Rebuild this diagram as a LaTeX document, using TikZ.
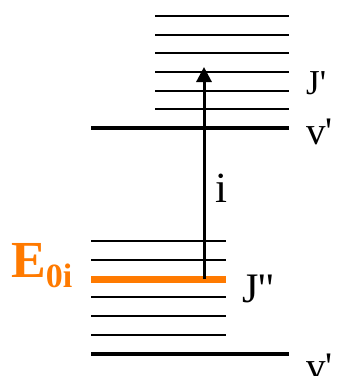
\documentclass[tikz,border=0pt]{standalone}
\usepackage{fontspec}
\setmainfont{Liberation Serif}
\usetikzlibrary{arrows.meta}
\definecolor{pop}{HTML}{FF7A00}
\definecolor{ink}{HTML}{000000}
\tikzset{
  >=Triangle,
  level/.style={draw=ink,line width=2.2pt},
  vib/.style={draw=ink,line width=3.2pt},
  popl/.style={draw=pop,line width=7pt},
  pump/.style={->,draw=ink,line width=3pt,>={Triangle[length=15pt,width=15pt]}},
  lab/.style={inner sep=0pt,anchor=base west,text=ink},
}
\newcommand{\pr}{\textquotesingle}

\begin{document}
\begin{tikzpicture}[x=1pt,y=-1pt]
  \useasboundingbox (0,0) rectangle (338,376);

  % upper state: v' and its J' ladder
  \foreach \yy in {16,35,53,72,91,109} \draw[level] (155,\yy) -- (289,\yy);
  \draw[vib] (91,128) -- (289,128);

  % lower state: J'' ladder and v''
  \foreach \yy in {241,260,297,316,335} \draw[level] (91,\yy) -- (226,\yy);
  \draw[popl] (91,279) -- (226,279);
  \draw[vib] (91,354) -- (289,354);

  % excitation
  \coordinate (lo) at (204,279);
  \coordinate (hi) at (204,67);
  \draw[pump] (lo) -- (hi);

  \node[lab,font=\fontsize{35}{35}\selectfont] (jup) at (306,94) {J\pr};
  \node[lab,font=\fontsize{39}{39}\selectfont] (vup) at (306,144) {v\pr};
  \node[lab,font=\fontsize{43}{43}\selectfont] (tr) at (215,202) {i};
  \node[lab,font=\fontsize{42}{42}\selectfont] (jlo) at (242,302) {J\pr\pr};
  \node[lab,font=\fontsize{39}{39}\selectfont] (vlo) at (306,379) {v\pr};
  \node[lab,text=pop,font=\fontsize{52}{52}\selectfont\bfseries] (eoi) at (11,277)
    {E\raisebox{-10pt}{\fontsize{34}{34}\selectfont 0i}};
\end{tikzpicture}
\end{document}
